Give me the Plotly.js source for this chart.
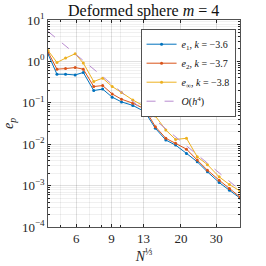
<!DOCTYPE html>
<html><head><meta charset="utf-8">
<script src="https://cdn.plot.ly/plotly-3.0.1.min.js"></script>
<style>html,body{margin:0;padding:0;background:#fff}#c{width:266px;height:266px}</style>
</head><body><div id="c"></div>
<script>
const xN = [4.34, 4.81, 5.31, 5.93, 6.51, 7.34, 8.13, 9.07, 10.1, 11.5, 13.2, 14.9, 16.8, 18.8, 21.3, 24.1, 27.1, 31.0, 34.9, 39.4];
const e1 = [1.51, 0.49, 0.49, 0.47, 0.54, 0.198, 0.214, 0.137, 0.105, 0.0865, 0.061, 0.0242, 0.0126, 0.0095, 0.0060, 0.00376, 0.00215, 0.00119, 0.00077, 0.00050];
const e2 = [1.69, 0.65, 0.67, 0.71, 0.65, 0.247, 0.261, 0.164, 0.122, 0.098, 0.071, 0.0265, 0.0139, 0.0105, 0.0076, 0.00413, 0.00236, 0.00135, 0.00085, 0.00053];
const eInf = [1.84, 0.94, 1.20, 1.53, 0.91, 0.327, 0.394, 0.247, 0.177, 0.117, 0.081, 0.048, 0.022, 0.013, 0.0139, 0.00497, 0.00321, 0.00163, 0.00106, 0.00074];
const refX = [4.34, 39.4];
const refY = [5.3, 0.00078];
const names = ['<i>e</i><sub>1</sub>, <i>k</i> = −3.6', '<i>e</i><sub>2</sub>, <i>k</i> = −3.7', '<i>e</i><sub>∞</sub>, <i>k</i> = −3.8', '<i>O</i>(<i>h</i><sup>4</sup>)'];
const xTicks = [6, 9, 13, 20, 30];
const xTickText = ['6', '9', '13', '20', '30'];
const yTicks = [1e-4, 1e-3, 1e-2, 1e-1, 1, 10];
const yTickText = ['10<sup>−4</sup>', '10<sup>−3</sup>', '10<sup>−2</sup>', '10<sup>−1</sup>', '10<sup>0</sup>', '10<sup>1</sup>'];

const yMinor = [];
for (let d = -4; d < 1; d++) for (let m = 2; m <= 9; m++) yMinor.push(m * Math.pow(10, d));
const xMinor = [5, 7, 8, 10, 40];

const colors = ['#0072BD', '#D95319', '#EDB120'];
const mk = (y, i) => ({x: xN, y: y, name: names[i], type: 'scatter', mode: 'lines+markers',
  line: {color: colors[i], width: 1}, marker: {color: colors[i], size: 3}});
const data = [mk(e1, 0), mk(e2, 1), mk(eInf, 2),
  {x: refX, y: refY, name: names[3], type: 'scatter', mode: 'lines',
   line: {color: '#B98BD0', width: 1, dash: 'dash'}}];

const serif = '"Liberation Serif", "DejaVu Serif", serif';
const axBase = {type: 'log', showline: true, mirror: 'ticks', linecolor: '#262626', linewidth: 0.8,
  ticks: 'inside', ticklen: 3, tickcolor: '#262626', gridcolor: 'rgba(0,0,0,0.12)', zeroline: false,
  tickfont: {family: serif, size: 13, color: '#262626'}, tickmode: 'array'};
const layout = {
  width: 266, height: 266, margin: {l: 48, r: 26, t: 20, b: 39},
  paper_bgcolor: '#fff', plot_bgcolor: '#fff',
  title: {text: 'Deformed sphere <i>m</i> = 4', font: {family: serif, size: 16, color: '#111'}, x: 0.54, xanchor: 'center', y: 0.962, yanchor: 'middle'},
  xaxis: Object.assign({}, axBase, {range: [Math.log10(4.34), Math.log10(39.4)], tickvals: xTicks, ticktext: xTickText,
    minor: {tickmode: 'array', tickvals: xMinor, ticks: 'inside', ticklen: 2, tickcolor: '#262626', showgrid: true, gridcolor: 'rgba(0,0,0,0.06)'},
    title: {text: '<i>N</i><sup>⅓</sup>', font: {family: serif, size: 14, color: '#262626'}, standoff: 2}}),
  yaxis: Object.assign({}, axBase, {range: [-4, 1], tickvals: yTicks, ticktext: yTickText,
    minor: {tickmode: 'array', tickvals: yMinor, ticks: 'inside', ticklen: 2, tickcolor: '#262626', showgrid: true, gridcolor: 'rgba(0,0,0,0.06)'},
    title: {text: '<i>e<sub>p</sub></i>', font: {family: serif, size: 14, color: '#262626'}, standoff: 4}}),
  legend: {x: 0.978, xanchor: 'right', y: 0.957, yanchor: 'top', bgcolor: '#fff', bordercolor: '#262626', borderwidth: 0.8,
    font: {family: serif, size: 10, color: '#111'}, tracegroupgap: 0, itemwidth: 30},
  showlegend: true
};
Plotly.newPlot('c', data, layout, {staticPlot: true, displayModeBar: false});
</script></body></html>
